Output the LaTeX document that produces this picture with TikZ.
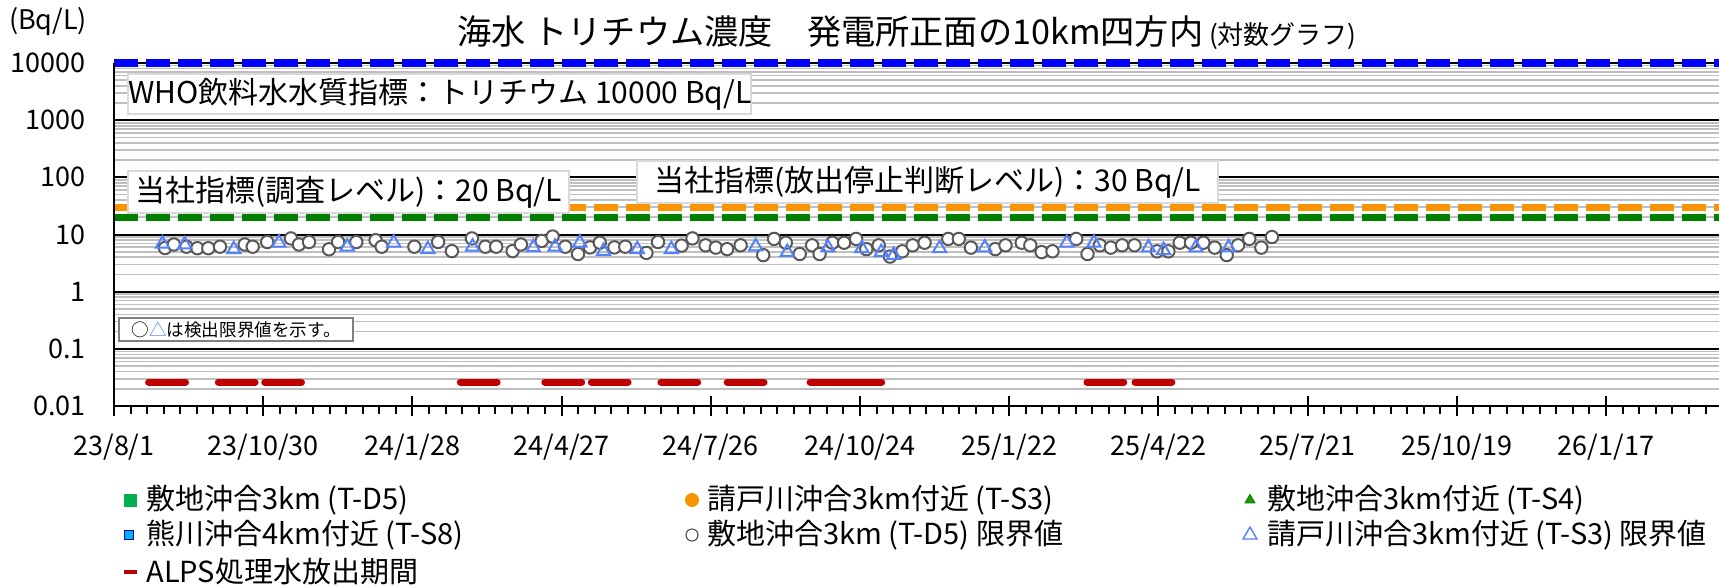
\documentclass[tikz,border=0pt]{standalone}
\usepackage{fontspec}
\setmainfont{Noto Sans CJK JP}
\usetikzlibrary{shapes.geometric}
\definecolor{cblue}{RGB}{0,0,255}
\definecolor{corange}{RGB}{247,148,0}
\definecolor{cgreen}{RGB}{0,128,0}
\definecolor{cred}{RGB}{192,0,0}
\definecolor{cgrid}{RGB}{191,191,191}
\definecolor{cpt}{RGB}{89,89,89}
\definecolor{ctri}{RGB}{84,130,255}
\definecolor{cbox}{RGB}{217,217,217}
\definecolor{cnote}{RGB}{128,128,128}
\definecolor{clegsq}{RGB}{0,176,80}
\definecolor{csfill}{RGB}{0,176,240}
\tikzset{
  minorgrid/.style={cgrid, line width=0.8pt},
  majorgrid/.style={black, line width=1pt},
  limitline/.style={line width=3.6pt, dash pattern=on 12pt off 4pt},
  axisline/.style={black, line width=1pt},
  tickline/.style={black, line width=1pt},
  ylab/.style={anchor=east, inner sep=0pt, font=\fontsize{13.5pt}{16pt}\selectfont},
  xlab/.style={anchor=center, inner sep=0pt, font=\fontsize{13.5pt}{16pt}\selectfont},
  labelbox/.style={draw=cbox, fill=white, line width=1pt, anchor=north west, inner sep=0pt, font=\fontsize{15pt}{18pt}\selectfont},
  notebox/.style={draw=cnote, fill=white, line width=1.2pt, anchor=north west, inner sep=0pt, font=\fontsize{8.8pt}{10pt}\selectfont},
  circpt/.style={circle, draw=cpt, fill=white, line width=1pt, minimum size=6.2pt, inner sep=0pt},
  tript/.style={regular polygon, regular polygon sides=3, draw=ctri, line width=1pt, minimum size=7.6pt, inner sep=0pt},
  alps/.style={cred, line width=3.5pt, line cap=round},
  legtext/.style={anchor=west, inner sep=0pt, font=\fontsize{14.5pt}{17pt}\selectfont}
}
\begin{document}
\begin{tikzpicture}[x=0.5pt,y=-0.5pt]
\useasboundingbox (0,0) rectangle (1719,586);
\fill[white] (0,0) rectangle (1719,586);
% minor grid
\foreach \d in {0,...,5}{\foreach \m in {2,...,9}{
  \pgfmathsetmacro\yy{406-(\d+log10(\m))*57.17}
  \draw[minorgrid] (114,\yy) -- (1719,\yy);}}
% major grid
\foreach \d in {1,...,6}{
  \pgfmathsetmacro\yy{406-\d*57.17}
  \draw[majorgrid] (114,\yy) -- (1719,\yy);}
% limit lines
\draw[limitline, cblue] (114,63) -- (1719,63);
\draw[limitline, corange] (114,207.2) -- (1719,207.2);
\draw[limitline, cgreen] (114,217.3) -- (1719,217.3);
% axes
\draw[axisline] (114,63) -- (114,406) -- (1719,406);
\foreach \i in {1,...,96}{
  \pgfmathsetmacro\xx{114+\i*16.578}
  \pgfmathtruncatemacro\r{mod(\i,9)}
  \ifnum\r=0
    \draw[tickline] (\xx,396) -- (\xx,416);
  \else
    \draw[tickline] (\xx,406) -- (\xx,414);
  \fi}
\draw[tickline] (114,396) -- (114,416);
% y labels
\node[ylab] (y1) at (86,406) {0.01};
\node[ylab] (y2) at (86,348.83) {0.1};
\node[ylab] (y3) at (86,291.66) {1};
\node[ylab] (y4) at (86,234.49) {10};
\node[ylab] (y5) at (86,177.32) {100};
\node[ylab] (y6) at (86,120.15) {1000};
\node[ylab] (y7) at (86,62.98) {10000};
\node[ylab, anchor=center] (unit) at (48,22) {(Bq/L)};
% x labels
\node[xlab] (x0) at (114,447) {23/8/1};
\node[xlab] (x1) at (263.2,447) {23/10/30};
\node[xlab] (x2) at (412.4,447) {24/1/28};
\node[xlab] (x3) at (561.6,447) {24/4/27};
\node[xlab] (x4) at (710.8,447) {24/7/26};
\node[xlab] (x5) at (860,447) {24/10/24};
\node[xlab] (x6) at (1009.2,447) {25/1/22};
\node[xlab] (x7) at (1158.4,447) {25/4/22};
\node[xlab] (x8) at (1307.6,447) {25/7/21};
\node[xlab] (x9) at (1456.8,447) {25/10/19};
\node[xlab] (x10) at (1606,447) {26/1/17};
% title
\node[inner sep=0pt, anchor=west] (title) at (457,33) {\fontsize{17.1pt}{20pt}\selectfont 海水 トリチウム濃度　発電所正面の10km四方内\fontsize{13pt}{15pt}\selectfont\ (対数グラフ)};
% label boxes
\node[labelbox, minimum width=311pt, minimum height=20pt] (who) at (127,73) {WHO飲料水水質指標：トリチウム 10000 Bq/L};
\node[labelbox, minimum width=220.5pt, minimum height=21pt] (lv20) at (127,170) {当社指標(調査レベル)：20 Bq/L};
\node[labelbox, minimum width=290.5pt, minimum height=21pt] (lv30) at (636,160) {当社指標(放出停止判断レベル)：30 Bq/L};
\node[notebox, minimum width=117pt, minimum height=11.5pt] (note) at (118,317) {○{\color{ctri}△}は検出限界値を示す。};
% ALPS discharge periods
\draw[alps] (148.6,382) -- (185.5,382);
\draw[alps] (218.3,382) -- (255.1,382);
\draw[alps] (264.7,382) -- (301.5,382);
\draw[alps] (460.3,382) -- (497.1,382);
\draw[alps] (544.8,382) -- (581.7,382);
\draw[alps] (591.3,382) -- (628.1,382);
\draw[alps] (660.9,382) -- (697.7,382);
\draw[alps] (727.2,382) -- (764.0,382);
\draw[alps] (810.1,382) -- (846.9,382);
\draw[alps] (844.9,382) -- (881.7,382);
\draw[alps] (1086.9,382) -- (1123.8,382);
\draw[alps] (1135.0,382) -- (1171.9,382);
% data: circles (T-D5 limit)
\foreach \p [count=\i] in {(165,248),(173.8,244.5),(186.5,246.7),(197.4,248.2),(208.3,248.2),(220,246.7),(244.7,244.5),(252.7,246.7),(267.2,242),(290.9,238.4),(298.9,244.5),(309,242),(329,249.3),(338.1,242),(356.3,242),(375.6,240.2),(381.7,246.7),(414.4,246.7),(438.1,242),(451.9,251.1),(471.9,238.4),(485.3,246.7),(496.2,246.7),(512.6,251.1),(520.9,244.5),(541.7,240.9),(552.6,236.5),(565.3,246.7),(578,254),(590,247.4),(599.8,242.7),(614.4,247.4),(625.3,246.7),(646.4,252.9),(658,242),(681.6,245.6),(692.5,238.4),(705.6,245.3),(715.8,247.6),(727.1,249.1),(740.6,245.3),(763.2,255.1),(774.1,238.9),(785.8,242.7),(799.7,254),(812.1,245.3),(819.6,254),(832.4,242.7),(844.1,242.7),(856.1,238.9),(866.3,249.1),(878.7,245.3),(890,256.6),(902.4,251.3),(912.6,245.3),(924.6,242.7),(948.3,238.9),(958.8,238.9),(970.9,247.6),(995.3,249.1),(1005.5,245.3),(1021.7,242.7),(1030.3,245.3),(1041.6,252.1),(1052.5,251.3),(1076.2,238.9),(1087.5,254),(1099.9,245.3),(1110.8,247.6),(1122.1,245.3),(1134.5,245.3),(1157.1,251.3),(1168.4,251.3),(1179.7,242.7),(1191,242.7),(1203.4,242.7),(1214.7,247.6),(1226.7,255.1),(1238,245.3),(1249.3,238.9),(1261.3,247.6),(1271.9,237)}
  {\node[circpt] (c\i) at \p {};}
% data: triangles (T-S3 limit)
\foreach \p [count=\i] in {(162.5,243.8),(184.7,244.5),(233.8,249.3),(278.9,242.7),(347.2,246.7),(393.7,242.7),(427.9,249.3),(472.6,246.7),(533.3,247.4),(555.1,246.7),(579.8,242.7),(603.5,251.1),(637.3,249.3),(671.4,249.3),(755.7,246.5),(787.3,252.1),(827.9,247.6),(861.8,248.3),(881.3,252.1),(893.7,255.1),(939.6,248.3),(984.8,247.6),(1066.8,242.7),(1093.9,242.7),(1148.5,247.6),(1163.5,250.2),(1195.9,247.6),(1228.6,247.6)}
  {\node[tript] (t\i) at \p {};}
% legend
\node[fill=clegsq, minimum size=6.5pt, inner sep=0pt] (lm1) at (130,500) {};
\node[legtext] (lt1) at (146,500) {敷地沖合3km (T-D5)};
\node[circle, fill=corange, minimum size=7pt, inner sep=0pt] (lm2) at (692,500) {};
\node[legtext] (lt2) at (707,500) {請戸川沖合3km付近 (T-S3)};
\node[regular polygon, regular polygon sides=3, fill=cgreen!80!lime, draw=cgreen, line width=0.5pt, minimum size=5.5pt, inner sep=0pt] (lm3) at (1250,500) {};
\node[legtext] (lt3) at (1267,500) {敷地沖合3km付近 (T-S4)};
\node[fill=csfill, draw=blue!70!black, line width=0.6pt, minimum width=4.2pt, minimum height=4.8pt, inner sep=0pt] (lm4) at (129,535) {};
\node[legtext] (lt4) at (146,535) {熊川沖合4km付近 (T-S8)};
\node[circle, draw=cpt, line width=0.6pt, minimum size=6pt, inner sep=0pt] (lm5) at (692,535) {};
\node[legtext] (lt5) at (707,535) {敷地沖合3km (T-D5) 限界値};
\node[regular polygon, regular polygon sides=3, draw=ctri, line width=0.7pt, minimum size=8pt, inner sep=0pt] (lm6) at (1250,535) {};
\node[legtext] (lt6) at (1267,535) {請戸川沖合3km付近 (T-S3) 限界値};
\node[fill=cred, minimum width=6.5pt, minimum height=2pt, inner sep=0pt] (lm7) at (130,572) {};
\node[legtext] (lt7) at (146,572) {ALPS処理水放出期間};
\end{tikzpicture}
\end{document}
